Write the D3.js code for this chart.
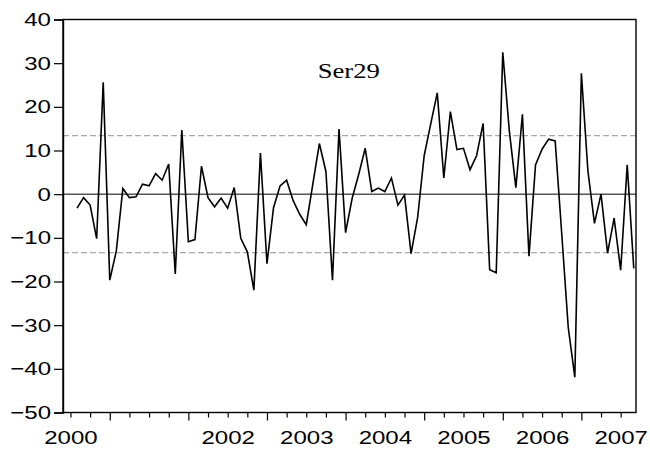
<!DOCTYPE html>
<html><head><meta charset="utf-8">
<script src="https://cdn.jsdelivr.net/npm/d3@7"></script>
<style>body{margin:0;background:#fff}svg{display:block}</style>
</head><body>
<svg id="c" width="650" height="452"></svg>
<script>
// ---- data ----
const seriesName = "Ser29";
const startYear = 2000;
const startMonth = 2; // first observation: Feb 2000 (monthly)
const values = [
  -3.2, -0.8, -2.5, -10.2, 25.6, -19.7, -13.0, 1.3, -0.8, -0.6, 2.3, 1.9, 4.7, 3.2,
  6.9, -18.3, 14.7, -10.9, -10.4, 6.4, -0.8, -2.9, -0.9, -3.2, 1.5, -10.1, -13.2, -22.0,
  9.4, -15.9, -3.1, 1.9, 3.2, -1.5, -4.6, -7.0, 2.3, 11.6, 5.2, -19.7, 14.9, -8.8,
  -1.0, 4.5, 10.5, 0.6, 1.4, 0.6, 3.7, -2.5, -0.2, -13.6, -5.4, 8.8, 16.1, 23.2, 3.7,
  18.9, 10.2, 10.5, 5.6, 8.8, 16.2, -17.3, -18.0, 32.5, 14.5, 1.5, 18.3, -14.2, 6.7,
  10.3, 12.6, 12.2, -9.0, -30.6, -41.9, 27.7, 5.3, -6.7, 0.0, -13.5, -5.5, -17.4, 6.7, -17.0
];
const yTicks = [-50, -40, -30, -20, -10, 0, 10, 20, 30, 40];
const xLabelYears = [2000, 2002, 2003, 2004, 2005, 2006, 2007];
const bandLevel = 13.4; // dashed reference lines at +/- this value

// ---- layout ----
const L = 63, R = 636, T = 19.5, B = 412.5;
const svg = d3.select("#c");
const monthOf = i => (startMonth - 1) + i; // months since Jan of startYear
const x = d3.scaleLinear().domain([-1.14, 86.34]).range([L, R]);
const y = d3.scaleLinear().domain([-50, 40]).range([B, T]);
const SX = 1.3;

// reference lines
svg.append("line").attr("x1", L).attr("x2", R).attr("y1", y(0)).attr("y2", y(0))
  .attr("stroke", "#000").attr("stroke-width", 1);
[bandLevel, -bandLevel].forEach(v => {
  svg.append("line").attr("x1", L).attr("x2", R).attr("y1", y(v)).attr("y2", y(v))
    .attr("stroke", "#a8a8a8").attr("stroke-width", 1.2).attr("stroke-dasharray", "6,3");
});

// series line
const line = d3.line().x((d, i) => x(monthOf(i))).y(d => y(d));
svg.append("path").datum(values).attr("d", line)
  .attr("fill", "none").attr("stroke", "#000").attr("stroke-width", 1.6)
  .attr("stroke-linejoin", "miter");

// frame
svg.append("rect").attr("x", L).attr("y", T).attr("width", R - L).attr("height", B - T)
  .attr("fill", "none").attr("stroke", "#000").attr("stroke-width", 1.4);

const font = "'Liberation Sans', Arial, sans-serif";

// y axis
const ya = svg.append("g").attr("transform", `translate(${L},0)`)
  .call(d3.axisLeft(y).tickValues(yTicks).tickSize(9).tickPadding(3).tickFormat(d3.format("d")));
ya.select(".domain").attr("stroke-width", 1.4);
ya.selectAll(".tick line").attr("stroke-width", 1.2);
ya.selectAll("text").attr("font-family", font).attr("font-size", 18.5).attr("fill", "#000")
  .attr("x", -12 / SX).attr("transform", `scale(${SX},1)`);

// x axis: quarterly minor ticks, longer ticks at mid-year
const lastM = monthOf(values.length - 1);
const minorTicks = d3.range(0, lastM + 1, 3).filter(m => m % 12 !== 6);
const majorTicks = d3.range(6, lastM + 1, 12);
const xa1 = svg.append("g").attr("transform", `translate(0,${B})`)
  .call(d3.axisBottom(x).tickValues(minorTicks).tickSize(5).tickFormat(""));
const xa2 = svg.append("g").attr("transform", `translate(0,${B})`)
  .call(d3.axisBottom(x).tickValues(majorTicks).tickSize(8).tickFormat(""));
[xa1, xa2].forEach(g => { g.select(".domain").remove(); g.selectAll(".tick line").attr("stroke-width", 1.2); });
const xa3 = svg.append("g").attr("transform", `translate(0,${B})`)
  .call(d3.axisBottom(x).tickValues(xLabelYears.map(yr => (yr - startYear) * 12))
    .tickSize(0).tickPadding(18).tickFormat((d) => String(startYear + d / 12)));
xa3.select(".domain").remove();
xa3.selectAll("text").attr("font-family", font).attr("font-size", 18.5).attr("fill", "#000")
  .attr("transform", `scale(${SX},1)`);

// title
svg.append("text").attr("transform", `translate(348.7,78) scale(${SX},1)`)
  .attr("text-anchor", "middle").attr("font-family", "'Liberation Serif', 'Times New Roman', serif")
  .attr("font-size", 20.5).attr("fill", "#000").text(seriesName);
</script>
</body></html>
